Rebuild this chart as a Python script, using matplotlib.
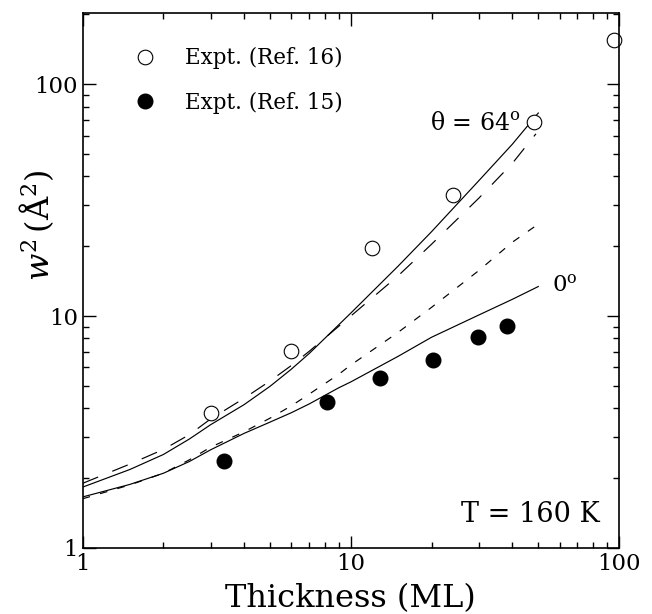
import matplotlib
matplotlib.use("Agg")
import matplotlib.pyplot as plt
from matplotlib.lines import Line2D
from matplotlib.ticker import LogLocator, FixedFormatter, FixedLocator, NullFormatter

plt.rcParams['font.family'] = ['DejaVu Serif']
plt.rcParams['mathtext.fontset'] = 'dejavuserif'
plt.rcParams['lines.scale_dashes'] = False

# Experimental data
x_ref16 = [3.0, 6.0, 12.0, 24.0, 48.0, 96.0]
y_ref16 = [3.81, 7.08, 19.6, 33.2, 68.4, 155.0]
x_ref15 = [3.36, 8.17, 12.9, 20.2, 29.9, 38.1]
y_ref15 = [2.38, 4.25, 5.42, 6.46, 8.14, 9.06]

# Theory curves, theta = 64 deg
x_64_solid = [1, 1.5, 2, 2.5, 3, 4, 5, 6, 7, 10, 15, 20, 30, 40, 50]
y_64_solid = [1.83, 2.18, 2.53, 2.95, 3.4, 4.15, 4.98, 5.9, 6.9, 10.3, 16.4, 23.1, 38.3, 55.0, 75.0]
x_64_dash = [1, 1.5, 2, 2.5, 3, 4, 5, 6, 7, 10, 15, 20, 30, 40, 49]
y_64_dash = [1.9, 2.3, 2.66, 3.08, 3.6, 4.42, 5.25, 6.12, 7.05, 10.0, 14.9, 20.4, 32.2, 45.5, 61.0]

# Theory curves, theta = 0 deg
x_0_solid = [1, 1.5, 2, 2.5, 3, 4, 5, 6, 7, 9, 10, 15, 20, 30, 40, 50]
y_0_solid = [1.66, 1.88, 2.10, 2.36, 2.65, 3.12, 3.49, 3.83, 4.18, 4.9, 5.2, 6.7, 8.1, 10.1, 11.8, 13.4]
x_0_dash = [1, 1.5, 2, 2.5, 3, 4, 5, 6, 7, 9, 10, 15, 20, 30, 40, 48.5]
y_0_dash = [1.63, 1.87, 2.10, 2.40, 2.72, 3.17, 3.63, 4.10, 4.61, 5.6, 6.15, 8.5, 10.9, 15.7, 20.8, 24.3]

tick_vals = [1, 10, 100]
tick_labels = ['1', '10', '100']

fig = plt.figure(figsize=(6.52, 6.14), dpi=100)
ax = fig.add_axes([0.1268, 0.1075, 0.8226, 0.8718])

lw = 0.85
ax.plot(x_64_solid, y_64_solid, color='black', lw=lw)
ax.plot(x_64_dash, y_64_dash, color='black', lw=lw, dashes=(12, 11))
ax.plot(x_0_solid, y_0_solid, color='black', lw=lw)
ax.plot(x_0_dash, y_0_dash, color='black', lw=lw, dashes=(5.5, 7.5))

ax.plot(x_ref16, y_ref16, 'o', mfc='white', mec='black', mew=0.8, ms=10.5, ls='none', clip_on=False)
ax.plot(x_ref15, y_ref15, 'o', mfc='black', mec='black', ms=10.5, ls='none')

ax.set_xscale('log')
ax.set_yscale('log')
ax.set_xlim(1, 100)
ax.set_ylim(1, 203)

ax.tick_params(which='both', direction='in', top=True, right=True, labelsize=16.5, width=1.0)
ax.tick_params(which='major', length=9)
ax.tick_params(which='minor', length=4.5)
ax.xaxis.set_major_locator(FixedLocator(tick_vals))
ax.xaxis.set_major_formatter(FixedFormatter(tick_labels))
ax.yaxis.set_major_locator(FixedLocator(tick_vals))
ax.yaxis.set_major_formatter(FixedFormatter(tick_labels))
ax.xaxis.set_minor_locator(LogLocator(base=10, subs=range(2, 10)))
ax.yaxis.set_minor_locator(LogLocator(base=10, subs=range(2, 10)))
ax.xaxis.set_minor_formatter(NullFormatter())
ax.yaxis.set_minor_formatter(NullFormatter())
for s in ax.spines.values():
    s.set_linewidth(1.2)

ax.set_xlabel('Thickness (ML)', fontsize=23, labelpad=6)
ax.set_ylabel(r'$w^2\,(\mathrm{\AA}^2)$', fontsize=23)
ax.yaxis.set_label_coords(-0.049, 0.603)

ax.text(0.6476, 0.781, r'θ = 64$^{\mathrm{o}}$', transform=ax.transAxes, fontsize=17, va='baseline')
ax.text(0.8754, 0.4788, r'0$^{\mathrm{o}}$', transform=ax.transAxes, fontsize=16.5, va='baseline')
ax.text(0.9646, 0.0486, 'T = 160 K', transform=ax.transAxes, fontsize=19.5, ha='right', va='baseline')

handles = [
    Line2D([], [], marker='o', ls='none', mfc='white', mec='black', mew=0.8, ms=10.5),
    Line2D([], [], marker='o', ls='none', mfc='black', mec='black', ms=10.5),
]
ax.legend(handles, ['Expt. (Ref. 16)', 'Expt. (Ref. 15)'], loc='upper left',
          bbox_to_anchor=(0.098, 0.936), frameon=False, fontsize=15.5,
          handlelength=0.9, handletextpad=1.41, labelspacing=1.05,
          borderpad=0, borderaxespad=0)

fig.savefig('out.png', dpi=100)
